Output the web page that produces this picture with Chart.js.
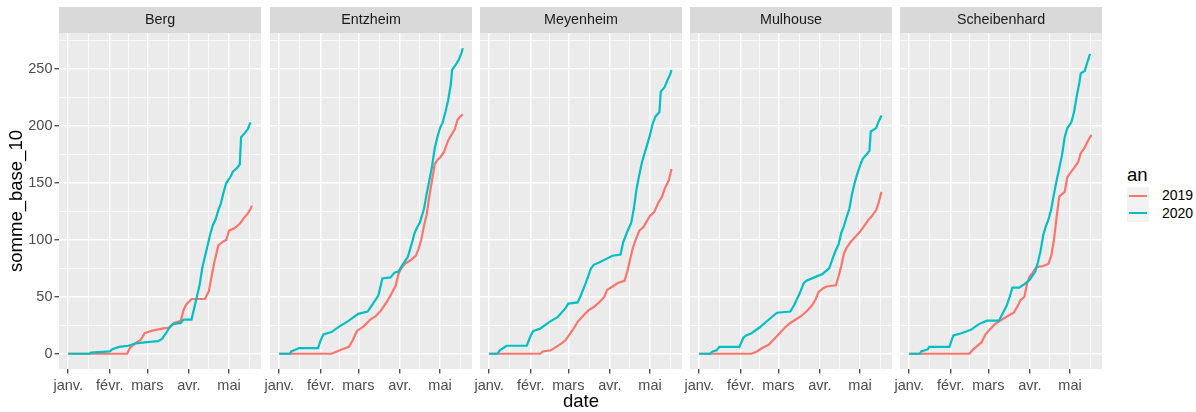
<!DOCTYPE html>
<html>
<head>
<meta charset="utf-8">
<script src="https://cdn.jsdelivr.net/npm/chart.js@4.4.1/dist/chart.umd.min.js"></script>
<style>
  body { margin: 0; background: #fff; font-family: "Liberation Sans", Arial, sans-serif; }
  #wrap { position: relative; width: 1196px; height: 412px; overflow: hidden; }
  canvas { position: absolute; top: 0; }
  #legend { position: absolute; left: 1127px; top: 163px; }
  .ltitle { font-size: 18.5px; color: #000; height: 24px; line-height: 24px; }
  .lrow { position: relative; height: 17.5px; }
  .lkey { position: absolute; left: 0; top: 0; width: 22px; height: 17.5px; background: #F2F2F2; }
  .lline { position: absolute; left: 2px; top: 7.7px; width: 18px; height: 2.2px; }
  .ltext { position: absolute; left: 35px; top: 0; font-size: 14px; line-height: 17.5px; color: #000; }
</style>
</head>
<body>
<div id="wrap">
  <canvas id="c0" width="265" height="412"></canvas>
  <canvas id="c1" width="230" height="412"></canvas>
  <canvas id="c2" width="230" height="412"></canvas>
  <canvas id="c3" width="230" height="412"></canvas>
  <canvas id="c4" width="230" height="412"></canvas>
  <div id="legend"></div>
</div>
<script>
// facets and colour groups
const stations = ["Berg", "Entzheim", "Meyenheim", "Mulhouse", "Scheibenhard"];
const years = ["2019", "2020"];
const yearColors = ["#F8766D", "#00BFC4"];

// x axis: days since 1 Jan
const monthDays = [0, 31, 59, 90, 120];
const monthLabels = ["janv.", "févr.", "mars", "avr.", "mai"];
const minorDays = [15.5, 45, 74.5, 105, 135.5];

// y axis
const yMajor = [0, 50, 100, 150, 200, 250];
const yMinor = [25, 75, 125, 175, 225, 275];

// cumulative somme_base_10, pairs of [day, value]
const berg2019 = [[0,0],[44,0],[46,5],[50,9],[54,12],[57,18],[62,20],[70,22],[76,23],[79,27],[84,29],[86,38],[88,43],[92,48],[102,48],[105,55],[107,68],[109,80],[112,95],[115,98],[118,100],[120,108],[124,110],[128,114],[131,119],[134,123],[136,127],[137,130]];
const berg2020 = [[0,0],[16,0],[17,1],[31,2],[33,4],[38,6],[45,7],[50,9],[57,10],[67,11],[70,13],[73,18],[76,24],[78,26],[84,27],[86,30],[92,30],[94,40],[96,50],[98,60],[100,75],[102,85],[104,95],[106,105],[108,113],[110,118],[112,126],[114,132],[116,142],[118,150],[121,155],[123,160],[126,163],[128,166],[129,190],[132,194],[134,197],[136,203]];
const entzheim2019 = [[0,0],[39,0],[43,2],[47,4],[52,6],[55,12],[58,20],[63,24],[68,30],[72,33],[76,38],[80,45],[84,53],[87,60],[89,70],[91,75],[94,79],[98,82],[102,86],[104,92],[106,100],[108,112],[110,122],[112,138],[114,152],[116,166],[118,170],[120,172],[123,177],[126,187],[129,193],[131,197],[133,205],[135,208],[137,210]];
const entzheim2020 = [[0,0],[8,0],[9,2],[15,5],[29,5],[31,12],[33,17],[39,19],[45,24],[52,29],[59,35],[66,37],[70,44],[74,51],[77,66],[83,67],[86,71],[89,72],[92,78],[96,85],[99,97],[101,106],[103,111],[105,115],[108,127],[110,140],[112,152],[114,164],[116,180],[118,190],[120,198],[122,203],[124,212],[126,222],[128,236],[129,249],[132,254],[134,258],[136,264],[137,268]];
const meyenheim2019 = [[0,0],[38,0],[40,2],[46,3],[50,6],[54,9],[57,12],[60,17],[63,22],[66,28],[70,33],[74,38],[78,41],[82,45],[86,50],[88,56],[92,59],[96,62],[101,64],[103,72],[105,82],[107,92],[109,99],[112,108],[115,111],[118,117],[120,121],[123,124],[126,132],[129,138],[131,145],[134,152],[136,162]];
const meyenheim2020 = [[0,0],[6,0],[8,3],[13,7],[28,7],[31,16],[33,20],[38,22],[45,28],[51,32],[57,40],[59,44],[66,45],[68,50],[72,62],[76,75],[78,78],[82,80],[87,83],[92,86],[98,87],[100,98],[103,107],[106,115],[108,128],[110,145],[112,157],[114,168],[117,180],[120,192],[122,202],[124,208],[127,212],[128,230],[131,234],[133,240],[135,245],[136,249]];
const mulhouse2019 = [[0,0],[39,0],[43,2],[47,5],[52,8],[56,13],[60,18],[64,23],[68,27],[72,30],[76,33],[80,37],[84,42],[87,48],[89,54],[92,57],[95,59],[102,60],[104,68],[106,77],[108,88],[110,93],[113,98],[116,102],[120,107],[123,112],[126,117],[129,121],[132,126],[134,133],[136,142]];
const mulhouse2020 = [[0,0],[8,0],[10,2],[13,3],[15,6],[30,6],[33,14],[35,16],[39,18],[45,23],[52,30],[58,36],[68,37],[71,43],[75,53],[78,62],[80,64],[86,67],[92,70],[97,75],[100,85],[102,91],[104,96],[106,106],[108,112],[110,120],[112,127],[114,140],[116,150],[118,158],[120,165],[122,171],[125,175],[127,178],[128,195],[132,198],[134,204],[136,209]];
const scheibenhard2019 = [[0,0],[45,0],[47,3],[50,6],[54,10],[57,17],[60,21],[64,26],[68,29],[72,32],[78,36],[81,42],[83,47],[86,50],[88,62],[90,68],[92,71],[95,76],[100,77],[104,79],[106,86],[108,100],[110,120],[112,138],[116,142],[118,155],[121,160],[123,163],[126,168],[128,176],[131,181],[133,186],[135,190],[136,192]];
const scheibenhard2020 = [[0,0],[8,0],[9,2],[14,4],[15,6],[30,6],[32,13],[33,16],[39,18],[46,21],[52,26],[58,29],[67,29],[70,36],[73,43],[75,50],[77,58],[82,58],[86,61],[90,65],[94,72],[96,80],[98,90],[100,104],[102,112],[104,118],[106,127],[108,140],[110,152],[112,163],[114,174],[116,190],[118,198],[121,203],[123,212],[125,226],[127,238],[128,246],[131,248],[133,256],[135,263]];

const series = [
  [berg2019, berg2020],
  [entzheim2019, entzheim2020],
  [meyenheim2019, meyenheim2020],
  [mulhouse2019, mulhouse2020],
  [scheibenhard2019, scheibenhard2020],
];

// ggplot-like expanded ranges (5% each side)
const xMin = -6.85, xMax = 143.85;
const yMin = -13.4, yMax = 281.4;

// panel geometry
const panelLeft = [59, 270, 480, 690, 900];
const plotTop = 33;
const plotBottom = 369;
const canvasH = 412;

Chart.defaults.font.family = '"Liberation Sans", Arial, sans-serif';

const xTicks = monthDays.concat(minorDays).sort((a, b) => a - b);
const yTicks = yMajor.concat(yMinor).sort((a, b) => a - b);
const toXY = (pts) => pts.map(([x, y]) => ({ x, y }));

// grey panel background + facet strip
const facetPlugin = {
  id: "facet",
  beforeDraw(chart, args, opts) {
    const { ctx, chartArea: a } = chart;
    ctx.save();
    ctx.fillStyle = "#EBEBEB";
    ctx.fillRect(a.left, a.top, a.right - a.left, a.bottom - a.top);
    ctx.fillStyle = "#D9D9D9";
    ctx.fillRect(a.left, 7, a.right - a.left, a.top - 7);
    ctx.fillStyle = "#1A1A1A";
    ctx.font = '14.3px "Liberation Sans", Arial, sans-serif';
    ctx.textAlign = "center";
    ctx.textBaseline = "middle";
    ctx.fillText(opts.label, (a.left + a.right) / 2, (7 + a.top) / 2 + 0.5);
    ctx.restore();
  },
};

function makeChart(i) {
  const first = i === 0;
  const canvas = document.getElementById("c" + i);
  const padL = first ? 0 : 14;
  const padR = first ? 4 : 14;
  canvas.style.left = (panelLeft[i] - (first ? 59 : 14)) + "px";

  // 2020 listed first so it is drawn on top, like ggplot
  const datasets = [1, 0].map((k) => ({
    label: years[k],
    data: toXY(series[i][k]),
    borderColor: yearColors[k],
    backgroundColor: yearColors[k],
    borderWidth: 2.2,
    pointRadius: 0,
    tension: 0,
    fill: false,
  }));

  return new Chart(canvas, {
    type: "line",
    data: { datasets },
    options: {
      responsive: false,
      animation: false,
      layout: { padding: { top: plotTop, left: padL, right: padR, bottom: 0 } },
      plugins: {
        legend: { display: false },
        tooltip: { enabled: false },
        facet: { label: stations[i] },
      },
      scales: {
        x: {
          type: "linear",
          min: xMin,
          max: xMax,
          afterBuildTicks: (axis) => { axis.ticks = xTicks.map((v) => ({ value: v })); },
          afterFit: (axis) => { axis.height = canvasH - plotBottom; },
          ticks: {
            autoSkip: false,
            maxRotation: 0,
            color: "#4D4D4D",
            font: { size: 14.5 },
            padding: 4,
            callback: (v) => {
              const k = monthDays.indexOf(v);
              return k >= 0 ? monthLabels[k] : "";
            },
          },
          grid: {
            color: "#FFFFFF",
            lineWidth: (c) => (monthDays.includes(c.tick && c.tick.value) ? 1.5 : 0.75),
            drawTicks: true,
            tickLength: 4.5,
            tickWidth: 1.2,
            tickColor: (c) => (monthDays.includes(c.tick && c.tick.value) ? "#333333" : "rgba(0,0,0,0)"),
          },
          border: { display: false },
          title: {
            display: i === 2,
            text: "date",
            color: "#000000",
            font: { size: 18.5, lineHeight: 1 },
            padding: { top: 0, bottom: 0.5 },
          },
        },
        y: {
          type: "linear",
          min: yMin,
          max: yMax,
          afterBuildTicks: (axis) => { axis.ticks = yTicks.map((v) => ({ value: v })); },
          afterFit: (axis) => { axis.width = first ? 59 : 0; },
          ticks: {
            display: first,
            color: "#4D4D4D",
            font: { size: 14.5 },
            padding: 2,
            callback: (v) => (yMajor.includes(v) ? String(v) : ""),
          },
          grid: {
            color: "#FFFFFF",
            lineWidth: (c) => (yMajor.includes(c.tick && c.tick.value) ? 1.5 : 0.75),
            drawTicks: first,
            tickLength: 4.5,
            tickWidth: 1.2,
            tickColor: (c) => (yMajor.includes(c.tick && c.tick.value) ? "#333333" : "rgba(0,0,0,0)"),
          },
          border: { display: false },
          title: {
            display: first,
            text: "somme_base_10",
            color: "#000000",
            font: { size: 18.5, lineHeight: 1 },
            padding: { top: 8, bottom: 0 },
          },
        },
      },
    },
    plugins: [facetPlugin],
  });
}

stations.forEach((s, i) => makeChart(i));

// legend "an"
const legend = document.getElementById("legend");
let html = '<div class="ltitle">an</div>';
years.forEach((y, k) => {
  html += '<div class="lrow"><div class="lkey"><div class="lline" style="background:' +
    yearColors[k] + '"></div></div><div class="ltext">' + y + "</div></div>";
});
legend.innerHTML = html;
</script>
</body>
</html>
